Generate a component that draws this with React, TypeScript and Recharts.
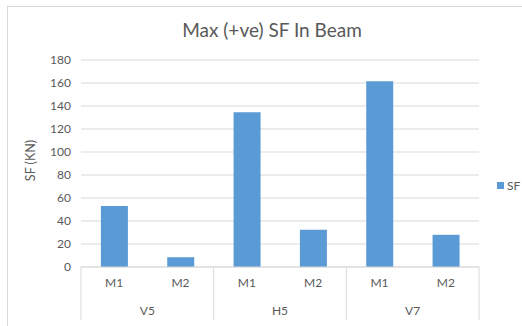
import { BarChart, Bar, XAxis, YAxis, CartesianGrid, Legend } from 'recharts';

const groups = ['V5', 'H5', 'V7'];
const members = ['M1', 'M2'];
const sfValues = [53, 8.5, 134.5, 32.5, 161.5, 28];
const yTicks = [0, 20, 40, 60, 80, 100, 120, 140, 160, 180];

const data = groups.flatMap((g, gi) =>
  members.map((m, mi) => ({ group: g, member: m, sf: sfValues[gi * members.length + mi] }))
);

const W = 522;
const H = 326;
const MARGIN = { top: 60, right: 43, bottom: 6, left: 0 };
const Y_AXIS_W = 81;
const X_AXIS_H = 53;
const BAND = (W - MARGIN.left - MARGIN.right - Y_AXIS_W) / data.length;

const FONT = 'Lato, "Open Sans", sans-serif';
const TEXT = '#595959';
const LINE = '#d9d9d9';
const BLUE = '#5b9bd5';

function MemberTick({ x, y, payload }: { x?: number; y?: number; payload?: { value: string; index: number } }) {
  if (x == null || y == null || !payload) return null;
  const i = payload.index;
  const first = i % members.length === 0;
  const last = i === data.length - 1;
  return (
    <g>
      <text x={x} y={y + 20} textAnchor="middle" fontSize={12} fill={TEXT} fontFamily={FONT}>
        {payload.value}
      </text>
      {first && (
        <text x={x + BAND / 2} y={y + 48} textAnchor="middle" fontSize={12} fill={TEXT} fontFamily={FONT}>
          {data[i].group}
        </text>
      )}
      {first && <line x1={x - BAND / 2} x2={x - BAND / 2} y1={y} y2={y + X_AXIS_H} stroke={LINE} />}
      {last && <line x1={x + BAND / 2} x2={x + BAND / 2} y1={y} y2={y + X_AXIS_H} stroke={LINE} />}
    </g>
  );
}

function LegendBox() {
  return (
    <div style={{ display: 'flex', alignItems: 'center', fontSize: 12, color: TEXT, fontFamily: FONT, whiteSpace: 'nowrap' }}>
      <span style={{ display: 'inline-block', width: 7, height: 7, background: BLUE, marginRight: 3 }} />
      SF
    </div>
  );
}

export default function App() {
  return (
    <div style={{ position: 'absolute', left: 0, top: 0, width: W, height: H, overflow: 'hidden', background: '#fff', fontFamily: FONT }}>
      <div style={{ position: 'absolute', left: 7, top: 6, width: 600, height: 400, border: `1px solid ${LINE}` }} />
      <div style={{ position: 'absolute', left: 0, top: 19, width: 544, textAlign: 'center', fontSize: 19, lineHeight: '22px', color: TEXT }}>
        Max (+ve) SF In Beam
      </div>
      <BarChart width={W} height={H} data={data} margin={MARGIN} barCategoryGap="30%">
        <CartesianGrid vertical={false} stroke={LINE} />
        <XAxis
          dataKey="member"
          height={X_AXIS_H}
          interval={0}
          tickSize={0}
          tickMargin={0}
          tickLine={false}
          axisLine={{ stroke: LINE }}
          tick={<MemberTick />}
        />
        <YAxis
          width={Y_AXIS_W}
          domain={[0, 180]}
          ticks={yTicks}
          interval={0}
          axisLine={false}
          tickLine={false}
          tickSize={0}
          tickMargin={10}
          tick={{ fontSize: 12, fill: TEXT, fontFamily: FONT }}
          label={{ value: 'SF (KN)', angle: -90, position: 'center', dx: -10, dy: -3, fontSize: 12.5, fill: TEXT, fontFamily: FONT }}
        />
        <Legend
          layout="vertical"
          align="center"
          verticalAlign="middle"
          content={<LegendBox />}
          wrapperStyle={{ left: 497, top: 178, width: 25 }}
        />
        <Bar dataKey="sf" name="SF" fill={BLUE} isAnimationActive={false} />
      </BarChart>
    </div>
  );
}
